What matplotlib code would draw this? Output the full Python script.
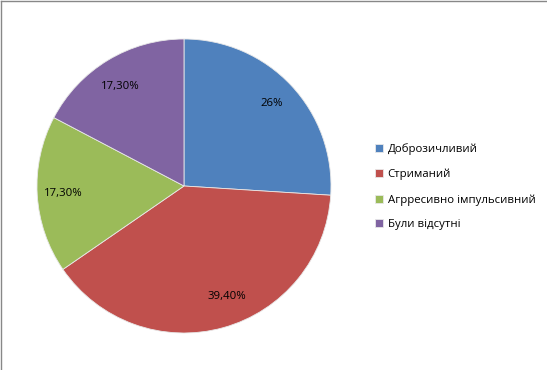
import matplotlib.pyplot as plt
from matplotlib.lines import Line2D
from matplotlib.transforms import offset_copy

# data
categories = ['Доброзичливий', 'Стриманий', 'Агрресивно імпульсивний', 'Були відсутні']
shares = [26, 39.4, 17.3, 17.3]
pct_labels = ['26%', '39,40%', '17,30%', '17,30%']
colors = ['#4F81BD', '#C0504D', '#9BBB59', '#8064A2']

plt.rcParams['font.family'] = ['Open Sans', 'DejaVu Sans']

fig = plt.figure(figsize=(5.47, 3.70), dpi=100)
ax = fig.add_axes([0.0676, 0.1, 0.5375, 0.7946])

lbl_iter = iter(pct_labels)
wedges, _, autotexts = ax.pie(shares, colors=colors, startangle=90, counterclock=False,
                              autopct=lambda p: next(lbl_iter), pctdistance=0.82,
                              wedgeprops=dict(edgecolor='#e8e8e8', linewidth=0.6),
                              textprops=dict(fontsize=8.2, color='black'))
ax.set_xlim(-1.0, 1.0)
ax.set_ylim(-1.0, 1.0)
ax.set_aspect('equal')

# small nudges so labels sit where Excel put them (points)
nudges = [(0, 0), (8, 4), (0, 0), (-1, -3)]
for t, (dx, dy) in zip(autotexts, nudges):
    t.set_transform(offset_copy(ax.transData, fig=fig, x=dx, y=dy, units='points'))

leg = fig.legend(wedges, categories, loc='center left', bbox_to_anchor=(0.667, 0.495),
                 frameon=False, fontsize=8.2, handlelength=0.7, handleheight=0.7,
                 handletextpad=0.4, labelspacing=1.2)

# outer frame (only top/left visible in the crop)
fig.add_artist(Line2D([0.002, 0.002], [0, 0.997], transform=fig.transFigure, color='#888888', lw=1))
fig.add_artist(Line2D([0.002, 1], [0.997, 0.997], transform=fig.transFigure, color='#888888', lw=1))

fig.savefig('out.png', dpi=100)
